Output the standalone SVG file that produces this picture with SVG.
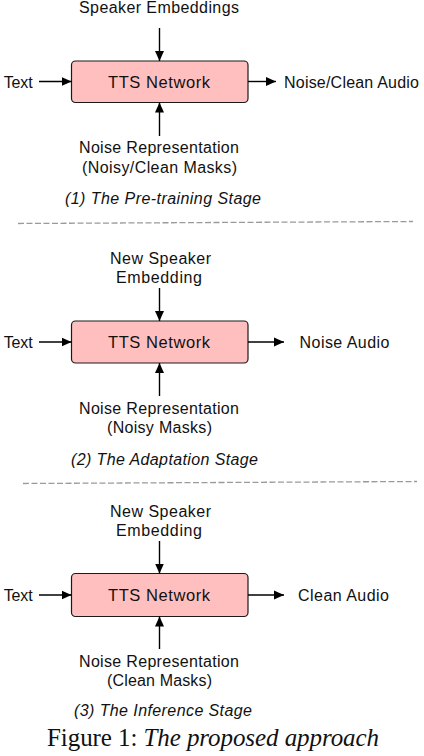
<svg xmlns="http://www.w3.org/2000/svg" width="424" height="756" viewBox="0 0 424 756">
<defs>
<marker id="ah" viewBox="0 0 10 10" refX="10" refY="5" markerWidth="10" markerHeight="10" markerUnits="userSpaceOnUse" orient="auto">
<path d="M0,0.5 L10,5 L0,9.5 Z" fill="#000"/>
</marker>
</defs>
<style>
.box{fill:#ffbfbf;stroke:#1a1a1a;stroke-width:1.2}
.t{font-family:"Liberation Sans",Arial,sans-serif;font-size:16px;fill:#111}
.n{font-size:16.5px}
.c{text-anchor:middle}
.i{font-style:italic;font-size:16px}
.ln{stroke:#000;stroke-width:1.4;fill:none;marker-end:url(#ah)}
.dash{stroke:#9a9a9a;stroke-width:1.3;stroke-dasharray:6 2.5;fill:none}
.cap{font-family:"Liberation Serif","Times New Roman",serif;font-size:25px;fill:#111}
</style>
<rect width="424" height="756" fill="#fff"/>

<g id="stage1">
<g id="net1"><rect class="box" x="71.5" y="61" width="176.5" height="41.5" rx="4"/><text class="t c n" x="159" y="87.5" textLength="102" lengthAdjust="spacing">TTS Network</text></g>
<g id="spk1"><text class="t c" x="159" y="12.5" textLength="160" lengthAdjust="spacing">Speaker Embeddings</text></g>
<g id="txt1"><text class="t" x="3.7" y="87.5" textLength="29" lengthAdjust="spacing">Text</text></g>
<g id="out1"><text class="t" x="284" y="87.5" textLength="135" lengthAdjust="spacing">Noise/Clean Audio</text></g>
<g id="noise1"><text class="t c" x="159" y="153" textLength="160" lengthAdjust="spacing">Noise Representation</text><text class="t c" x="159.5" y="172.5" textLength="155" lengthAdjust="spacing">(Noisy/Clean Masks)</text></g>
<g id="lab1"><text class="t c i" x="163" y="204" textLength="196" lengthAdjust="spacing">(1) The Pre-training Stage</text></g>
</g>

<g id="stage2">
<g id="net2"><rect class="box" x="71.5" y="321" width="176.5" height="42" rx="4"/><text class="t c n" x="159" y="348" textLength="102" lengthAdjust="spacing">TTS Network</text></g>
<g id="spk2"><text class="t c" x="160.5" y="264" textLength="101" lengthAdjust="spacing">New Speaker</text><text class="t c" x="159" y="283" textLength="86" lengthAdjust="spacing">Embedding</text></g>
<g id="txt2"><text class="t" x="3.7" y="348" textLength="29" lengthAdjust="spacing">Text</text></g>
<g id="out2"><text class="t" x="299.5" y="348" textLength="90" lengthAdjust="spacing">Noise Audio</text></g>
<g id="noise2"><text class="t c" x="159" y="413.5" textLength="160" lengthAdjust="spacing">Noise Representation</text><text class="t c" x="159.5" y="433" textLength="105" lengthAdjust="spacing">(Noisy Masks)</text></g>
<g id="lab2"><text class="t c i" x="164.5" y="465" textLength="187" lengthAdjust="spacing">(2) The Adaptation Stage</text></g>
</g>

<g id="stage3">
<g id="net3"><rect class="box" x="71.5" y="573.5" width="176.5" height="43" rx="4"/><text class="t c n" x="159" y="601" textLength="102" lengthAdjust="spacing">TTS Network</text></g>
<g id="spk3"><text class="t c" x="160.5" y="517" textLength="101" lengthAdjust="spacing">New Speaker</text><text class="t c" x="159" y="536" textLength="86" lengthAdjust="spacing">Embedding</text></g>
<g id="txt3"><text class="t" x="3.7" y="601" textLength="29" lengthAdjust="spacing">Text</text></g>
<g id="out3"><text class="t" x="298" y="601" textLength="91" lengthAdjust="spacing">Clean Audio</text></g>
<g id="noise3"><text class="t c" x="159" y="666.5" textLength="160" lengthAdjust="spacing">Noise Representation</text><text class="t c" x="159.5" y="686" textLength="105" lengthAdjust="spacing">(Clean Masks)</text></g>
<g id="lab3"><text class="t c i" x="163" y="716" textLength="178" lengthAdjust="spacing">(3) The Inference Stage</text></g>
</g>

<g id="connectors">
<line class="ln" x1="159.5" y1="28" x2="159.5" y2="61"/>
<line class="ln" x1="39" y1="81.5" x2="71.5" y2="81.5"/>
<line class="ln" x1="248" y1="81.5" x2="276" y2="81.5"/>
<line class="ln" x1="159.5" y1="136" x2="159.5" y2="102.5"/>

<line class="ln" x1="159.5" y1="288" x2="159.5" y2="321"/>
<line class="ln" x1="39" y1="342" x2="71.5" y2="342"/>
<line class="ln" x1="248" y1="342" x2="284" y2="342"/>
<line class="ln" x1="159.5" y1="396" x2="159.5" y2="363"/>

<line class="ln" x1="159.5" y1="541" x2="159.5" y2="573.5"/>
<line class="ln" x1="39" y1="595" x2="71.5" y2="595"/>
<line class="ln" x1="248" y1="595" x2="284" y2="595"/>
<line class="ln" x1="159.5" y1="649" x2="159.5" y2="616.5"/>
</g>

<g id="dividers">
<line class="dash" x1="18" y1="223.5" x2="413" y2="221.5"/>
<line class="dash" x1="23" y1="483.5" x2="417" y2="481.5"/>
</g>

<g id="caption"><text class="cap" x="47" y="746" textLength="332" lengthAdjust="spacing">Figure 1: <tspan font-style="italic">The proposed approach</tspan></text></g>
</svg>
